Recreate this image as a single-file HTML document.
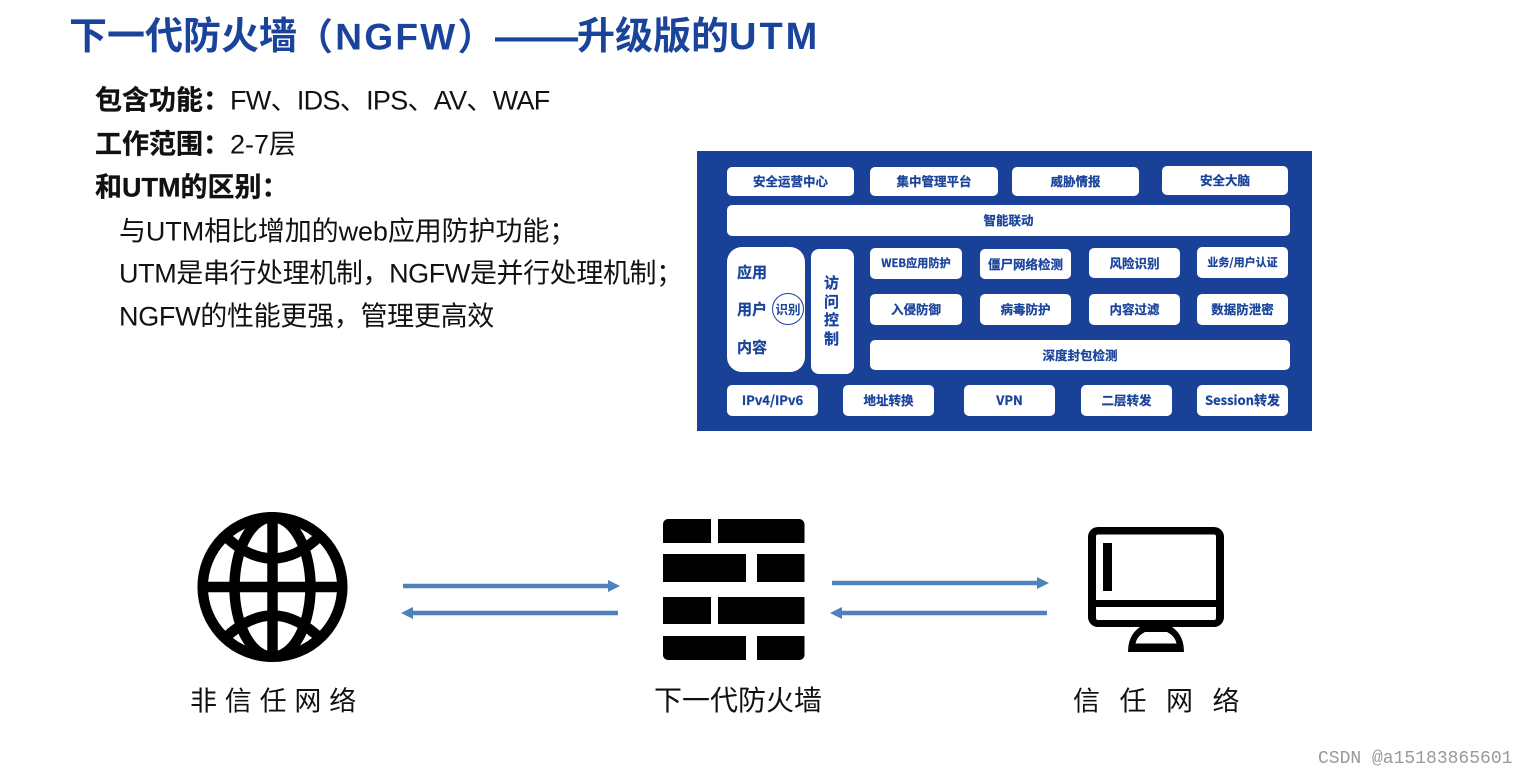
<!DOCTYPE html>
<html lang="zh-CN"><head><meta charset="utf-8"><title>下一代防火墙（NGFW）</title>
<style>
html,body{margin:0;padding:0;background:#fff}
#p{position:relative;width:1527px;height:775px;overflow:hidden;background:#fff;font-family:"Liberation Sans","Noto Sans CJK SC",sans-serif;filter:blur(.35px)}
.t{position:absolute;white-space:nowrap;line-height:1;transform:translateY(-50%)}
.h{color:#1a439b;font-weight:700;font-size:38px}
.b{color:#111;font-size:27px}
.bb{font-weight:700;-webkit-text-stroke:.3px #111}
.box{position:absolute;background:#fff;border-radius:5px;color:#1a439b;font-weight:700;font-size:12.5px;display:flex;align-items:center;justify-content:center;white-space:nowrap;font-family:"Noto Sans CJK SC","Liberation Sans",sans-serif;box-sizing:border-box;padding-bottom:2px;-webkit-text-stroke:.25px #1a439b}
.lab{color:#111;font-size:27px;font-family:"Noto Sans CJK SC",sans-serif}
.s{position:absolute;color:#1a439b;font-weight:700;font-size:15px;line-height:1;font-family:"Noto Sans CJK SC",sans-serif;white-space:nowrap;transform:translateY(-50%);-webkit-text-stroke:.25px #1a439b}
svg{position:absolute;left:0;top:0}
</style></head><body><div id="p">
<div class="t h" style="left:69px;top:37px">下一代防火墙</div>
<div class="t h" style="left:296px;top:37px;font-size:37px;letter-spacing:2.3px">（NGFW）</div>
<div class="t h" style="left:495px;top:36px;font-size:41.500px">——</div>
<div class="t h" style="left:577px;top:37px">升级版的<span style="letter-spacing:3px">UTM</span></div>

<div class="t b" style="left:95px;top:101px"><span class="bb">包含功能：</span><span style="letter-spacing:-.7px">FW、IDS、IPS、AV、WAF</span></div>
<div class="t b" style="left:95px;top:145px"><span class="bb">工作范围：</span>2-7层</div>
<div class="t b bb" style="left:95px;top:188px">和UTM的区别：</div>
<div class="t b" style="left:119px;top:232px;letter-spacing:-.1px">与UTM相比增加的web应用防护功能；</div>
<div class="t b" style="left:119px;top:274px;letter-spacing:-.4px">UTM是串行处理机制，NGFW是并行处理机制；</div>
<div class="t b" style="left:119px;top:317px;letter-spacing:-.3px">NGFW的性能更强，管理更高效</div>

<div style="position:absolute;left:697px;top:151px;width:615px;height:280px;background:#1a4198"></div>
<div class="box" style="left:727px;top:167px;width:127px;height:29px">安全运营中心</div>
<div class="box" style="left:870px;top:167px;width:128px;height:29px">集中管理平台</div>
<div class="box" style="left:1012px;top:167px;width:127px;height:29px">威胁情报</div>
<div class="box" style="left:1162px;top:166px;width:126px;height:29px">安全大脑</div>
<div class="box" style="left:727px;top:205px;width:563px;height:31px">智能联动</div>
<div class="box" style="left:727px;top:247px;width:78px;height:125px;border-radius:15px"></div>
<div class="s" style="left:737px;top:272px">应用</div>
<div class="s" style="left:737px;top:309px">用户</div>
<div class="s" style="left:737px;top:347px">内容</div>
<div style="position:absolute;left:772px;top:293px;width:30px;height:30px;border:1.400px solid #1a439b;border-radius:50%;color:#1a439b;font:700 12.500px/30px 'Noto Sans CJK SC',sans-serif;text-align:center">识别</div>
<div class="box" style="left:811px;top:249px;width:43px;height:125px;border-radius:8px;font-size:15px;line-height:18.500px;white-space:normal;text-align:center;padding:0 14px 1px 12px">访问控制</div>
<div class="box" style="left:870px;top:248px;width:92px;height:31px;font-size:11.200px">WEB应用防护</div>
<div class="box" style="left:980px;top:249px;width:91px;height:30px">僵尸网络检测</div>
<div class="box" style="left:1089px;top:248px;width:91px;height:30px">风险识别</div>
<div class="box" style="left:1197px;top:247px;width:91px;height:31px;font-size:11px">业务/用户认证</div>
<div class="box" style="left:870px;top:294px;width:92px;height:31px">入侵防御</div>
<div class="box" style="left:980px;top:294px;width:91px;height:31px">病毒防护</div>
<div class="box" style="left:1089px;top:294px;width:91px;height:31px">内容过滤</div>
<div class="box" style="left:1197px;top:294px;width:91px;height:31px">数据防泄密</div>
<div class="box" style="left:870px;top:340px;width:420px;height:30px">深度封包检测</div>
<div class="box" style="left:727px;top:385px;width:91px;height:31px;font-size:13px">IPv4/IPv6</div>
<div class="box" style="left:843px;top:385px;width:91px;height:31px">地址转换</div>
<div class="box" style="left:964px;top:385px;width:91px;height:31px;font-size:13px">VPN</div>
<div class="box" style="left:1081px;top:385px;width:91px;height:31px">二层转发</div>
<div class="box" style="left:1197px;top:385px;width:91px;height:31px;font-size:13px">Session转发</div>

<svg width="1527" height="775" viewBox="0 0 1527 775">
<g fill="none" stroke="#000" stroke-width="10.500">
<circle cx="272.500" cy="587" r="69.800"/>
<ellipse cx="272.500" cy="587" rx="38" ry="69.800"/>
<path d="M272.500 516V658M202 587H343"/>
<path d="M224 535Q272.500 582 321 535M224 639Q272.500 592 321 639"/>
</g>
<g fill="#000">
<path d="M663 524a5 5 0 0 1 5-5h43v24h-48z"/>
<path d="M718 519h81a5.500 5.500 0 0 1 5.500 5.500V543H718z"/>
<rect x="663" y="554" width="83" height="28"/><rect x="757" y="554" width="47.500" height="28"/>
<rect x="663" y="597" width="48" height="27"/><rect x="718" y="597" width="86.500" height="27"/>
<path d="M663 636h83v24h-78a5 5 0 0 1-5-5z"/>
<path d="M757 636h47.500v19a5 5 0 0 1-5 5H757z"/>
</g>
<g fill="#000">
<path fill-rule="evenodd" d="M1098 527h116a10 10 0 0 1 10 10v80a10 10 0 0 1-10 10h-116a10 10 0 0 1-10-10v-80a10 10 0 0 1 10-10zM1098 534.500a2 2 0 0 0-2 2V600h120v-63.500a2 2 0 0 0-2-2zM1096 607v11a2 2 0 0 0 2 2h116a2 2 0 0 0 2-2v-11z"/>
<rect x="1103" y="543" width="9" height="48"/>
<path fill-rule="evenodd" d="M1140 627h32q12 8 12 25h-56q0-17 12-25zM1145 632q-8 4-9.500 11.500h41q-1.500-7.500-9.500-11.500z"/>
</g>
<g fill="#4f81bd">
<path d="M403 583.800H608V580l12 6-12 6v-3.800H403z"/>
<path d="M618 610.800H413V607l-12 6 12 6v-3.800h205z"/>
<path d="M832 580.800h205V577l12 6-12 6v-3.800H832z"/>
<path d="M1047 610.800H842V607l-12 6 12 6v-3.800h205z"/>
</g>
</svg>

<div class="t lab" style="left:190px;top:699px;letter-spacing:7.800px">非信任网络</div>
<div class="t lab" style="left:654px;top:699px;font-size:28px">下一代防火墙</div>
<div class="t lab" style="left:1073px;top:699px;letter-spacing:19.500px">信任网络</div>
<div class="t" style="left:1318px;top:759px;font:18px/1 'Liberation Mono',monospace;color:#999">CSDN @a15183865601</div>
</div></body></html>
